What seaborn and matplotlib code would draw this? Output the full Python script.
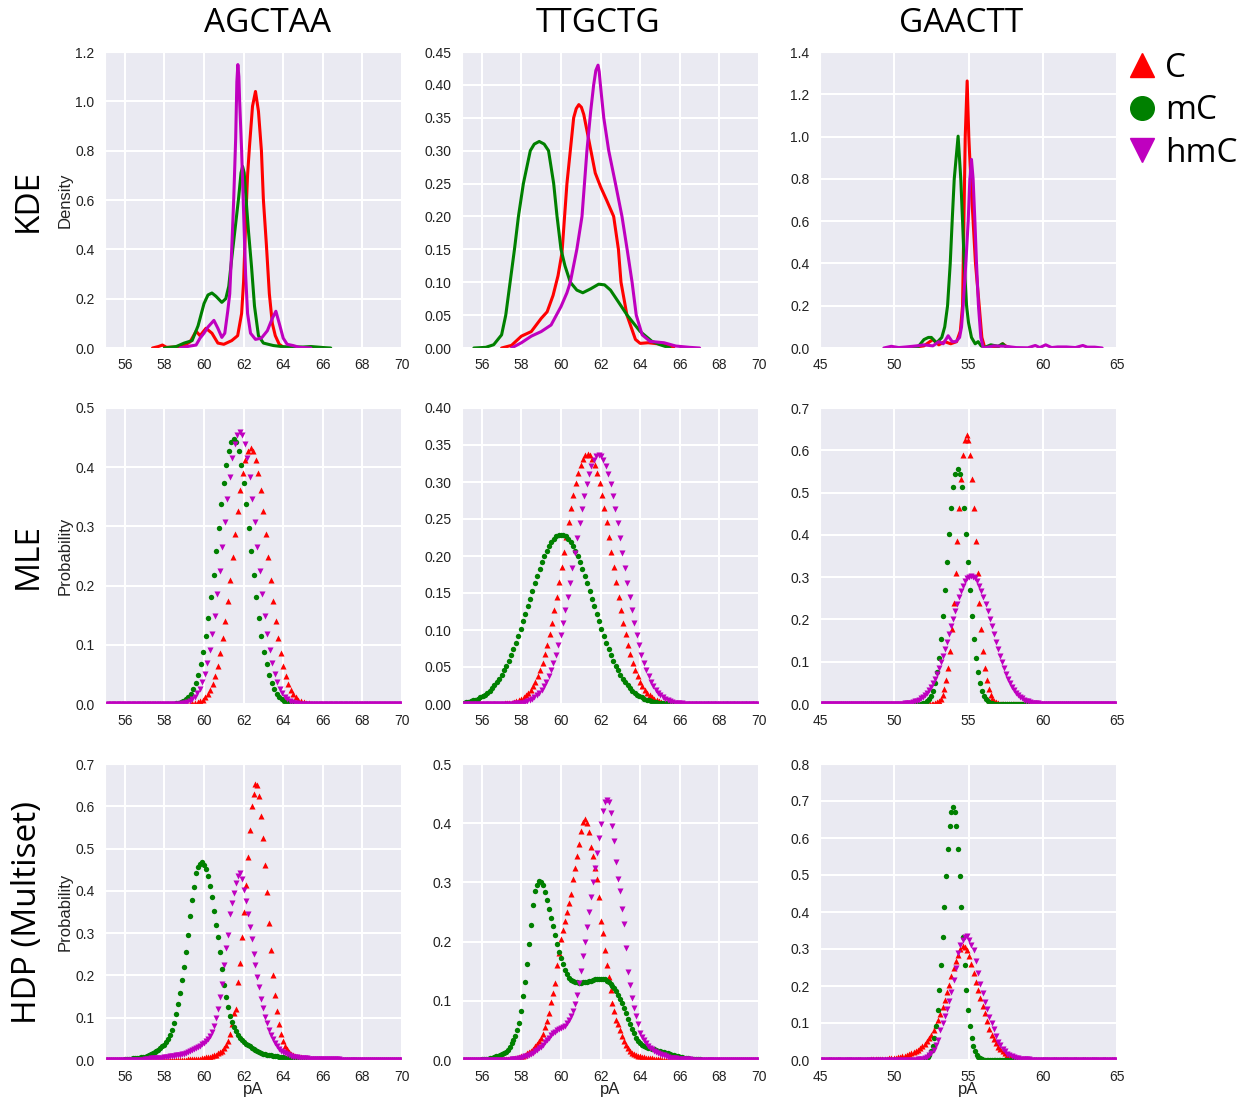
import numpy as np
import seaborn as sns
import matplotlib.pyplot as plt
from matplotlib.lines import Line2D
from matplotlib.ticker import FormatStrFormatter

motifs = ['AGCTAA', 'TTGCTG', 'GAACTT']
methods = ['KDE', 'MLE', 'HDP (Multiset)']
bases = ['C', 'mC', 'hmC']
base_colors = {'C': '#ff0000', 'mC': '#008000', 'hmC': '#bf00bf'}
base_markers = {'C': '^', 'mC': 'o', 'hmC': 'v'}

x_limits = [(55, 70), (55, 70), (45, 65)]
x_ticks = [[56, 58, 60, 62, 64, 66, 68, 70], [56, 58, 60, 62, 64, 66, 68, 70], [45, 50, 55, 60, 65]]
y_ticks = [
    [[0.0, 0.2, 0.4, 0.6, 0.8, 1.0, 1.2],
     [0.0, 0.05, 0.10, 0.15, 0.20, 0.25, 0.30, 0.35, 0.40, 0.45],
     [0.0, 0.2, 0.4, 0.6, 0.8, 1.0, 1.2, 1.4]],
    [[0.0, 0.1, 0.2, 0.3, 0.4, 0.5],
     [0.0, 0.05, 0.10, 0.15, 0.20, 0.25, 0.30, 0.35, 0.40],
     [0.0, 0.1, 0.2, 0.3, 0.4, 0.5, 0.6, 0.7]],
    [[0.0, 0.1, 0.2, 0.3, 0.4, 0.5, 0.6, 0.7],
     [0.0, 0.1, 0.2, 0.3, 0.4, 0.5],
     [0.0, 0.1, 0.2, 0.3, 0.4, 0.5, 0.6, 0.7, 0.8]],
]
y_formats = [['%.1f', '%.2f', '%.1f'], ['%.1f', '%.2f', '%.1f'], ['%.1f', '%.1f', '%.1f']]

# ---------------- KDE (density curves, x / y) ----------------
kde_agctaa_c_x = [57.4, 57.7, 57.9, 58.1, 58.6, 59.0, 59.3, 59.6, 59.8, 60.1, 60.4, 60.7, 61.0, 61.4, 61.7, 61.9,
                  62.0, 62.1, 62.2, 62.3, 62.45, 62.6, 62.75, 62.9, 63.0, 63.15, 63.3, 63.45, 63.6, 63.8, 64.0, 64.3]
kde_agctaa_c_y = [0.0, 0.006, 0.012, 0.003, 0.004, 0.01, 0.025, 0.068, 0.05, 0.08, 0.06, 0.02, 0.015, 0.03, 0.05, 0.14,
                  0.27, 0.5, 0.7, 0.82, 0.98, 1.04, 0.96, 0.8, 0.6, 0.42, 0.22, 0.1, 0.05, 0.015, 0.004, 0.0]
kde_agctaa_mc_x = [58.0, 58.6, 59.0, 59.4, 59.7, 60.0, 60.2, 60.4, 60.6, 60.9, 61.1, 61.25, 61.41, 61.58, 61.75,
                   61.87, 61.95, 62.03, 62.1, 62.25, 62.4, 62.55, 62.75, 63.0, 63.5, 64.0, 65.0, 65.4, 66.0, 66.4]
kde_agctaa_mc_y = [0.0, 0.006, 0.02, 0.03, 0.09, 0.18, 0.215, 0.223, 0.21, 0.185, 0.2, 0.25, 0.37, 0.49, 0.61,
                   0.71, 0.736, 0.71, 0.63, 0.47, 0.33, 0.17, 0.05, 0.02, 0.01, 0.005, 0.004, 0.006, 0.002, 0.0]
kde_agctaa_hmc_x = [58.8, 59.3, 59.6, 59.8, 60.0, 60.2, 60.5, 60.7, 60.9, 61.05, 61.2, 61.3, 61.4, 61.5, 61.6, 61.66,
                    61.71, 61.76, 61.8, 61.9, 62.0, 62.1, 62.2, 62.35, 62.6, 62.9, 63.2, 63.45, 63.63, 63.8, 64.0,
                    64.2, 64.5, 64.8, 65.4]
kde_agctaa_hmc_y = [0.0, 0.008, 0.012, 0.04, 0.06, 0.085, 0.112, 0.08, 0.043, 0.06, 0.15, 0.22, 0.4, 0.6, 0.85, 1.08,
                    1.149, 1.1, 1.0, 0.8, 0.55, 0.3, 0.14, 0.06, 0.035, 0.04, 0.07, 0.12, 0.149, 0.1, 0.04,
                    0.015, 0.01, 0.003, 0.0]

kde_ttgctg_c_x = [57.0, 57.5, 58.0, 58.5, 59.0, 59.3, 59.6, 59.85, 60.05, 60.3, 60.47, 60.64, 60.77, 60.9, 61.03,
                  61.15, 61.4, 61.73, 62.0, 62.3, 62.66, 62.9, 63.03, 63.33, 63.76, 64.0, 64.4, 65.0, 65.3, 65.7]
kde_ttgctg_c_y = [0.0, 0.004, 0.018, 0.025, 0.045, 0.055, 0.08, 0.11, 0.145, 0.25, 0.3, 0.35, 0.364, 0.37, 0.366,
                  0.355, 0.317, 0.266, 0.245, 0.225, 0.2, 0.15, 0.1, 0.05, 0.013, 0.007, 0.008, 0.006, 0.004, 0.0]
kde_ttgctg_mc_x = [55.6, 56.2, 56.6, 57.0, 57.21, 57.43, 57.65, 57.85, 58.1, 58.45, 58.65, 58.9, 59.15, 59.37, 59.63,
                   59.8, 60.0, 60.2, 60.47, 60.8, 61.1, 61.5, 61.9, 62.2, 62.5, 62.9, 63.34, 64.0, 64.6, 65.0, 65.5]
kde_ttgctg_mc_y = [0.0, 0.001, 0.005, 0.02, 0.05, 0.1, 0.15, 0.2, 0.25, 0.3, 0.31, 0.314, 0.31, 0.3, 0.25,
                   0.2, 0.15, 0.125, 0.1, 0.088, 0.084, 0.09, 0.097, 0.096, 0.088, 0.07, 0.05, 0.025, 0.01, 0.005, 0.0]
kde_ttgctg_hmc_x = [57.5, 58.0, 58.5, 59.0, 59.5, 60.0, 60.3, 60.47, 60.8, 61.06, 61.31, 61.5, 61.65, 61.76, 61.87,
                    61.93, 61.99, 62.16, 62.41, 62.75, 63.08, 63.34, 63.59, 63.8, 64.1, 64.5, 65.2, 65.8, 66.5, 67.0]
kde_ttgctg_hmc_y = [0.0, 0.008, 0.018, 0.025, 0.035, 0.063, 0.084, 0.1, 0.15, 0.2, 0.3, 0.36, 0.4, 0.422, 0.43,
                    0.42, 0.4, 0.35, 0.3, 0.25, 0.2, 0.15, 0.1, 0.05, 0.02, 0.01, 0.008, 0.003, 0.001, 0.0]

kde_gaactt_c_x = [50.5, 51.5, 52.0, 52.6, 53.0, 53.4, 53.8, 54.2, 54.45, 54.6, 54.69, 54.78, 54.91, 55.02, 55.15,
                  55.31, 55.47, 55.72, 55.9, 56.1, 56.5, 57.0, 57.3, 57.6, 58.0]
kde_gaactt_c_y = [0.0, 0.005, 0.01, 0.04, 0.015, 0.03, 0.02, 0.03, 0.08, 0.2, 0.6, 1.0, 1.263, 1.0, 0.8,
                  0.6, 0.4, 0.2, 0.05, 0.0, 0.005, 0.005, 0.02, 0.005, 0.0]
kde_gaactt_mc_x = [51.3, 51.6, 52.0, 52.3, 52.5, 52.85, 53.2, 53.4, 53.59, 53.77, 53.9, 54.04, 54.3, 54.48, 54.6,
                   54.71, 54.87, 55.0, 55.2, 55.45, 55.65, 55.85, 56.1, 56.5, 57.0, 57.3, 57.6]
kde_gaactt_mc_y = [0.0, 0.005, 0.04, 0.05, 0.05, 0.024, 0.05, 0.1, 0.2, 0.4, 0.6, 0.8, 1.002, 0.8, 0.6,
                   0.4, 0.2, 0.12, 0.05, 0.02, 0.03, 0.01, 0.003, 0.015, 0.008, 0.02, 0.0]
kde_gaactt_hmc_x = [49.3, 49.8, 50.3, 50.8, 51.5, 52.0, 52.6, 53.0, 53.3, 53.63, 53.9, 54.15, 54.4, 54.53, 54.64,
                    54.82, 54.98, 55.09, 55.2, 55.31, 55.43, 55.54, 55.67, 55.83, 56.0, 56.7, 57.5, 58.2, 59.0,
                    59.5, 59.8, 60.2, 60.6, 61.0, 61.6, 62.2, 62.7, 63.0, 63.5, 64.0]
kde_gaactt_hmc_y = [0.0, 0.008, 0.002, 0.005, 0.01, 0.015, 0.01, 0.03, 0.02, 0.058, 0.03, 0.03, 0.05, 0.1, 0.2,
                    0.4, 0.6, 0.8, 0.892, 0.8, 0.6, 0.4, 0.2, 0.05, 0.0, 0.01, 0.008, 0.002, 0.001,
                    0.012, 0.002, 0.015, 0.002, 0.005, 0.005, 0.002, 0.012, 0.004, 0.004, 0.0]

# ---------------- MLE (probabilities on an evenly spaced pA grid: (first pA, spacing)) ----------------
mle_agctaa_c_grid = (59.035, 0.1275)
mle_agctaa_c = [0.0002, 0.0004, 0.0006, 0.0011, 0.0019, 0.003, 0.0048, 0.0074, 0.0113, 0.0167, 0.0242, 0.0344,
                0.0476, 0.0645, 0.0855, 0.111, 0.14, 0.174, 0.21, 0.249, 0.288, 0.326, 0.361, 0.39, 0.413, 0.427,
                0.432, 0.427, 0.413, 0.39, 0.361, 0.326, 0.288, 0.249, 0.21, 0.174, 0.14, 0.111, 0.0855, 0.0645,
                0.0476, 0.0344, 0.0242, 0.0167, 0.0113, 0.0074, 0.0048, 0.003, 0.0019, 0.0011, 0.0006, 0.0004, 0.0002]
mle_agctaa_mc_grid = (58.185, 0.1275)
mle_agctaa_mc = [0.0002, 0.0004, 0.0007, 0.0012, 0.0019, 0.0031, 0.005, 0.0077, 0.0117, 0.0173, 0.0251, 0.0356,
                 0.0493, 0.0668, 0.0885, 0.115, 0.145, 0.18, 0.218, 0.258, 0.298, 0.337, 0.373, 0.404, 0.427, 0.442,
                 0.447, 0.442, 0.427, 0.404, 0.373, 0.337, 0.298, 0.258, 0.218, 0.18, 0.145, 0.115, 0.0885, 0.0668,
                 0.0493, 0.0356, 0.0251, 0.0173, 0.0117, 0.0077, 0.005, 0.0031, 0.0019, 0.0012, 0.0007, 0.0004, 0.0002]
mle_agctaa_hmc_grid = (58.524, 0.126)
mle_agctaa_hmc = [0.0002, 0.0004, 0.0007, 0.0012, 0.002, 0.0032, 0.0051, 0.0079, 0.012, 0.0178, 0.0258, 0.0366,
                  0.0507, 0.0687, 0.091, 0.118, 0.149, 0.185, 0.224, 0.265, 0.307, 0.347, 0.384, 0.416, 0.44, 0.455,
                  0.46, 0.455, 0.44, 0.416, 0.384, 0.347, 0.307, 0.265, 0.224, 0.185, 0.149, 0.118, 0.091, 0.0687,
                  0.0507, 0.0366, 0.0258, 0.0178, 0.012, 0.0079, 0.0051, 0.0032, 0.002, 0.0012, 0.0007, 0.0004, 0.0002]

mle_ttgctg_c_grid = (56.55, 0.12)
mle_ttgctg_c = [0.0001, 0.0002, 0.0002, 0.0004, 0.0005, 0.0007, 0.001, 0.0015, 0.002, 0.0028, 0.0038, 0.005,
                0.0067, 0.0088, 0.0115, 0.0148, 0.019, 0.024, 0.03, 0.0373, 0.0457, 0.0556, 0.0669, 0.0797, 0.094,
                0.1097, 0.1269, 0.1452, 0.1645, 0.1846, 0.205, 0.2254, 0.2454, 0.2646, 0.2823, 0.2983, 0.312,
                0.3231, 0.3313, 0.3363, 0.338, 0.3363, 0.3313, 0.3231, 0.312, 0.2983, 0.2823, 0.2646, 0.2454,
                0.2254, 0.205, 0.1846, 0.1645, 0.1452, 0.1269, 0.1097, 0.094, 0.0797, 0.0669, 0.0556, 0.0457,
                0.0373, 0.03, 0.024, 0.019, 0.0148, 0.0115, 0.0088, 0.0067, 0.005, 0.0038, 0.0028, 0.002, 0.0015,
                0.001, 0.0007, 0.0005, 0.0004, 0.0002, 0.0002, 0.0001]
mle_ttgctg_mc_grid = (55.08, 0.12)
mle_ttgctg_mc = [0.002, 0.0025, 0.0032, 0.0039, 0.0049, 0.006, 0.0073, 0.0089, 0.0107, 0.0128, 0.0153, 0.0182,
                 0.0215, 0.0253, 0.0295, 0.0342, 0.0395, 0.0453, 0.0517, 0.0587, 0.0662, 0.0744, 0.083, 0.0921,
                 0.1016, 0.1115, 0.1216, 0.1319, 0.1424, 0.1527, 0.163, 0.1728, 0.1824, 0.1913, 0.1995, 0.2069,
                 0.2135, 0.2189, 0.2233, 0.2264, 0.2284, 0.229, 0.2284, 0.2264, 0.2233, 0.2189, 0.2135, 0.2069,
                 0.1995, 0.1913, 0.1824, 0.1728, 0.163, 0.1527, 0.1424, 0.1319, 0.1216, 0.1115, 0.1016, 0.0921,
                 0.083, 0.0744, 0.0662, 0.0587, 0.0517, 0.0453, 0.0395, 0.0342, 0.0295, 0.0253, 0.0215, 0.0182,
                 0.0153, 0.0128, 0.0107, 0.0089, 0.0073, 0.006, 0.0049, 0.0039, 0.0032, 0.0025, 0.002, 0.0016,
                 0.0013, 0.001, 0.0008, 0.0006, 0.0005, 0.0003, 0.0003, 0.0002, 0.0002, 0.0001]
mle_ttgctg_hmc_grid = (57.1, 0.12)
mle_ttgctg_hmc = [0.0001, 0.0002, 0.0002, 0.0004, 0.0005, 0.0007, 0.001, 0.0014, 0.002, 0.0028, 0.0037, 0.005,
                  0.0067, 0.0088, 0.0115, 0.0148, 0.0189, 0.0239, 0.03, 0.0372, 0.0456, 0.0554, 0.0667, 0.0794,
                  0.0937, 0.1094, 0.1265, 0.1448, 0.164, 0.184, 0.2044, 0.2248, 0.2447, 0.2638, 0.2815, 0.2974,
                  0.3111, 0.3222, 0.3303, 0.3353, 0.337, 0.3353, 0.3303, 0.3222, 0.3111, 0.2974, 0.2815, 0.2638,
                  0.2447, 0.2248, 0.2044, 0.184, 0.164, 0.1448, 0.1265, 0.1094, 0.0937, 0.0794, 0.0667, 0.0554,
                  0.0456, 0.0372, 0.03, 0.0239, 0.0189, 0.0148, 0.0115, 0.0088, 0.0067, 0.005, 0.0037, 0.0028,
                  0.002, 0.0014, 0.001, 0.0007, 0.0005, 0.0004, 0.0002, 0.0002, 0.0001]

mle_gaactt_c_grid = (52.39, 0.124)
mle_gaactt_c = [0.0002, 0.0004, 0.001, 0.002, 0.0038, 0.0071, 0.0126, 0.0217, 0.0357, 0.0566, 0.0862, 0.1261,
                0.1771, 0.2391, 0.3101, 0.3863, 0.4625, 0.5321, 0.588, 0.6244, 0.637, 0.6244, 0.588, 0.5321,
                0.4625, 0.3863, 0.3101, 0.2391, 0.1771, 0.1261, 0.0862, 0.0566, 0.0357, 0.0217, 0.0126, 0.0071,
                0.0038, 0.002, 0.001, 0.0004, 0.0002]
mle_gaactt_mc_grid = (51.5, 0.138)
mle_gaactt_mc = [0.0002, 0.0004, 0.0008, 0.0017, 0.0033, 0.0062, 0.011, 0.0189, 0.0311, 0.0493, 0.0751, 0.1098,
                 0.1543, 0.2083, 0.2702, 0.3366, 0.403, 0.4636, 0.5123, 0.544, 0.555, 0.544, 0.5123, 0.4636,
                 0.403, 0.3366, 0.2702, 0.2083, 0.1543, 0.1098, 0.0751, 0.0493, 0.0311, 0.0189, 0.011, 0.0062,
                 0.0033, 0.0017, 0.0008, 0.0004, 0.0002]
mle_gaactt_hmc_grid = (49.8, 0.135)
mle_gaactt_hmc = [0.0001, 0.0002, 0.0002, 0.0003, 0.0005, 0.0007, 0.0009, 0.0013, 0.0018, 0.0025, 0.0034, 0.0045,
                  0.006, 0.0079, 0.0103, 0.0133, 0.017, 0.0215, 0.0269, 0.0334, 0.041, 0.0498, 0.06, 0.0714,
                  0.0842, 0.0984, 0.1137, 0.1302, 0.1475, 0.1655, 0.1838, 0.2021, 0.22, 0.2372, 0.2531, 0.2674,
                  0.2797, 0.2897, 0.297, 0.3015, 0.303, 0.3015, 0.297, 0.2897, 0.2797, 0.2674, 0.2531, 0.2372,
                  0.22, 0.2021, 0.1838, 0.1655, 0.1475, 0.1302, 0.1137, 0.0984, 0.0842, 0.0714, 0.06, 0.0498,
                  0.041, 0.0334, 0.0269, 0.0215, 0.017, 0.0133, 0.0103, 0.0079, 0.006, 0.0045, 0.0034, 0.0025,
                  0.0018, 0.0013, 0.0009, 0.0007, 0.0005, 0.0003, 0.0002, 0.0002, 0.0001]

# ---------------- HDP (Multiset) ----------------
hdp_agctaa_c_grid = (59.0, 0.1)
hdp_agctaa_c = [0.001, 0.001, 0.0015, 0.0015, 0.002, 0.002, 0.0025, 0.003, 0.0035, 0.004, 0.005, 0.006, 0.007,
                0.008, 0.009, 0.011, 0.013, 0.016, 0.019, 0.022, 0.028, 0.036, 0.046, 0.062, 0.085, 0.11, 0.12,
                0.185, 0.23, 0.29, 0.35, 0.415, 0.48, 0.545, 0.6, 0.63, 0.652, 0.65, 0.625, 0.578, 0.525, 0.46,
                0.398, 0.325, 0.26, 0.2, 0.153, 0.115, 0.085, 0.062, 0.046, 0.034, 0.025, 0.019, 0.015, 0.012,
                0.01, 0.008, 0.007, 0.006, 0.005, 0.0044, 0.0038, 0.0032, 0.0026, 0.002, 0.0018, 0.0016, 0.0014,
                0.0012, 0.001]
hdp_agctaa_mc_grid = (56.0, 0.1)
hdp_agctaa_mc = [0.002, 0.0024, 0.0028, 0.0032, 0.0036, 0.004, 0.0048, 0.0056, 0.0064, 0.0072, 0.008, 0.01, 0.012,
                 0.014, 0.016, 0.018, 0.021, 0.024, 0.028, 0.032, 0.036, 0.042, 0.049, 0.058, 0.07, 0.088, 0.108,
                 0.132, 0.158, 0.19, 0.22, 0.256, 0.295, 0.34, 0.378, 0.41, 0.442, 0.456, 0.464, 0.468, 0.462,
                 0.452, 0.436, 0.412, 0.385, 0.352, 0.32, 0.29, 0.256, 0.215, 0.178, 0.148, 0.125, 0.105, 0.09,
                 0.079, 0.068, 0.06, 0.053, 0.047, 0.042, 0.039, 0.035, 0.032, 0.029, 0.026, 0.024, 0.022, 0.019,
                 0.017, 0.015, 0.014, 0.013, 0.012, 0.011, 0.01, 0.0092, 0.0084, 0.0076, 0.0068, 0.006, 0.0056,
                 0.0052, 0.0048, 0.0044, 0.004, 0.0036, 0.0032, 0.0028, 0.0024, 0.002, 0.0019, 0.0018, 0.0017,
                 0.0016, 0.0015, 0.0014, 0.0013, 0.0012, 0.0011, 0.001]
hdp_agctaa_hmc_grid = (57.0, 0.1)
hdp_agctaa_hmc = [0.003, 0.003, 0.0033, 0.0036, 0.0038, 0.004, 0.0044, 0.0048, 0.0052, 0.0056, 0.006, 0.0068,
                  0.0076, 0.0084, 0.0092, 0.01, 0.011, 0.012, 0.013, 0.014, 0.015, 0.017, 0.019, 0.021, 0.023,
                  0.025, 0.028, 0.031, 0.034, 0.037, 0.04, 0.044, 0.049, 0.056, 0.067, 0.08, 0.099, 0.12, 0.148,
                  0.18, 0.225, 0.265, 0.295, 0.345, 0.372, 0.395, 0.418, 0.435, 0.442, 0.428, 0.402, 0.377, 0.345,
                  0.315, 0.285, 0.25, 0.224, 0.196, 0.172, 0.145, 0.124, 0.101, 0.087, 0.07, 0.058, 0.049, 0.041,
                  0.034, 0.027, 0.022, 0.018, 0.016, 0.014, 0.012, 0.01, 0.008, 0.0072, 0.0064, 0.0056, 0.0048,
                  0.004, 0.0038, 0.0036, 0.0034, 0.0032, 0.003, 0.0028, 0.0026, 0.0024, 0.0022, 0.002, 0.0019,
                  0.0018, 0.0017, 0.0016, 0.0015, 0.0014, 0.0013, 0.0012, 0.0011, 0.001]

hdp_ttgctg_c_grid = (57.0, 0.1)
hdp_ttgctg_c = [0.001, 0.0012, 0.0014, 0.0016, 0.0018, 0.002, 0.0025, 0.003, 0.0037, 0.0045, 0.006, 0.0075, 0.009,
                0.011, 0.013, 0.016, 0.019, 0.023, 0.027, 0.032, 0.037, 0.044, 0.055, 0.066, 0.08, 0.098, 0.114,
                0.13, 0.16, 0.18, 0.205, 0.22, 0.235, 0.25, 0.265, 0.28, 0.305, 0.325, 0.345, 0.365, 0.387, 0.402,
                0.407, 0.4, 0.385, 0.36, 0.345, 0.325, 0.305, 0.275, 0.235, 0.215, 0.185, 0.16, 0.14, 0.118, 0.097,
                0.082, 0.068, 0.06, 0.05, 0.041, 0.032, 0.025, 0.02, 0.015, 0.012, 0.01, 0.0085, 0.007, 0.006,
                0.0054, 0.0048, 0.0042, 0.0036, 0.003, 0.0026, 0.0022, 0.0018, 0.0014, 0.001]
hdp_ttgctg_mc_grid = (56.0, 0.1)
hdp_ttgctg_mc = [0.001, 0.0015, 0.002, 0.0025, 0.003, 0.004, 0.005, 0.006, 0.007, 0.0085, 0.01, 0.012, 0.014, 0.017,
                 0.022, 0.028, 0.034, 0.041, 0.051, 0.062, 0.082, 0.108, 0.132, 0.163, 0.196, 0.228, 0.262, 0.285,
                 0.296, 0.302, 0.3, 0.295, 0.284, 0.27, 0.255, 0.24, 0.226, 0.211, 0.196, 0.183, 0.172, 0.162,
                 0.152, 0.145, 0.139, 0.135, 0.133, 0.132, 0.131, 0.13, 0.13, 0.131, 0.131, 0.132, 0.133, 0.134,
                 0.135, 0.136, 0.137, 0.137, 0.137, 0.137, 0.136, 0.134, 0.132, 0.129, 0.125, 0.121, 0.116, 0.11,
                 0.103, 0.096, 0.088, 0.079, 0.07, 0.061, 0.053, 0.045, 0.038, 0.032, 0.028, 0.025, 0.023, 0.022,
                 0.021, 0.02, 0.019, 0.018, 0.017, 0.016, 0.015, 0.014, 0.013, 0.012, 0.011, 0.01, 0.009, 0.008,
                 0.007, 0.006, 0.005, 0.0044, 0.0038, 0.0032, 0.0026, 0.002, 0.0018, 0.0016, 0.0014, 0.0012, 0.001]
hdp_ttgctg_hmc_grid = (57.5, 0.1)
hdp_ttgctg_hmc = [0.001, 0.0015, 0.002, 0.0025, 0.003, 0.004, 0.005, 0.006, 0.007, 0.0085, 0.01, 0.012, 0.0145,
                  0.017, 0.0195, 0.022, 0.026, 0.03, 0.034, 0.038, 0.042, 0.045, 0.048, 0.05, 0.052, 0.054, 0.056,
                  0.058, 0.062, 0.067, 0.074, 0.082, 0.095, 0.11, 0.13, 0.15, 0.175, 0.2, 0.225, 0.25, 0.275, 0.3,
                  0.325, 0.35, 0.375, 0.398, 0.42, 0.435, 0.44, 0.435, 0.418, 0.395, 0.37, 0.335, 0.305, 0.285,
                  0.255, 0.23, 0.19, 0.148, 0.127, 0.104, 0.088, 0.074, 0.06, 0.045, 0.039, 0.033, 0.028, 0.024,
                  0.021, 0.018, 0.016, 0.014, 0.012, 0.01, 0.009, 0.0078, 0.0066, 0.0053, 0.004, 0.0036, 0.0032,
                  0.0028, 0.0024, 0.002, 0.0018, 0.0016, 0.0014, 0.0012, 0.001]

hdp_gaactt_c_grid = (48.0, 0.15)
hdp_gaactt_c = [0.001, 0.0012, 0.0013, 0.0015, 0.0016, 0.0018, 0.0019, 0.0022, 0.0028, 0.0034, 0.004, 0.0046,
                0.0052, 0.0058, 0.0066, 0.0075, 0.0084, 0.0096, 0.0114, 0.0132, 0.015, 0.018, 0.021, 0.024, 0.028,
                0.0325, 0.037, 0.043, 0.051, 0.059, 0.068, 0.081, 0.095, 0.108, 0.125, 0.144, 0.163, 0.183, 0.204,
                0.226, 0.248, 0.267, 0.285, 0.3, 0.309, 0.306, 0.297, 0.28, 0.26, 0.235, 0.212, 0.19, 0.168, 0.147,
                0.126, 0.105, 0.085, 0.068, 0.057, 0.046, 0.036, 0.029, 0.023, 0.018, 0.014, 0.011, 0.008, 0.0058,
                0.0046, 0.0034, 0.0022, 0.0018, 0.0015, 0.0012, 0.001]
hdp_gaactt_mc_grid = (51.67, 0.114)
hdp_gaactt_mc = [0.0002, 0.0005, 0.001, 0.0021, 0.0041, 0.0076, 0.0135, 0.0233, 0.0384, 0.0608, 0.0925, 0.1354,
                 0.1902, 0.2567, 0.333, 0.4148, 0.4967, 0.5713, 0.6314, 0.6705, 0.684, 0.6705, 0.6314, 0.5713,
                 0.4967, 0.4148, 0.333, 0.2567, 0.1902, 0.1354, 0.0925, 0.0608, 0.0384, 0.0233, 0.0135, 0.0076,
                 0.0041, 0.0021, 0.001, 0.0005, 0.0002]
hdp_gaactt_hmc_grid = (51.45, 0.15)
hdp_gaactt_hmc = [0.001, 0.002, 0.003, 0.004, 0.006, 0.009, 0.013, 0.02, 0.028, 0.04, 0.055, 0.08, 0.1, 0.118,
                  0.138, 0.16, 0.185, 0.215, 0.25, 0.29, 0.31, 0.325, 0.332, 0.334, 0.325, 0.31, 0.297, 0.268,
                  0.236, 0.205, 0.18, 0.158, 0.137, 0.117, 0.1, 0.083, 0.066, 0.05, 0.04, 0.031, 0.023, 0.017,
                  0.013, 0.01, 0.008, 0.006, 0.005, 0.004, 0.003, 0.0025, 0.002, 0.0016, 0.0013, 0.001]

kde_curves = [
    [(kde_agctaa_c_x, kde_agctaa_c_y), (kde_agctaa_mc_x, kde_agctaa_mc_y), (kde_agctaa_hmc_x, kde_agctaa_hmc_y)],
    [(kde_ttgctg_c_x, kde_ttgctg_c_y), (kde_ttgctg_mc_x, kde_ttgctg_mc_y), (kde_ttgctg_hmc_x, kde_ttgctg_hmc_y)],
    [(kde_gaactt_c_x, kde_gaactt_c_y), (kde_gaactt_mc_x, kde_gaactt_mc_y), (kde_gaactt_hmc_x, kde_gaactt_hmc_y)],
]
dot_series = {
    1: [[(mle_agctaa_c_grid, mle_agctaa_c), (mle_agctaa_mc_grid, mle_agctaa_mc), (mle_agctaa_hmc_grid, mle_agctaa_hmc)],
        [(mle_ttgctg_c_grid, mle_ttgctg_c), (mle_ttgctg_mc_grid, mle_ttgctg_mc), (mle_ttgctg_hmc_grid, mle_ttgctg_hmc)],
        [(mle_gaactt_c_grid, mle_gaactt_c), (mle_gaactt_mc_grid, mle_gaactt_mc), (mle_gaactt_hmc_grid, mle_gaactt_hmc)]],
    2: [[(hdp_agctaa_c_grid, hdp_agctaa_c), (hdp_agctaa_mc_grid, hdp_agctaa_mc), (hdp_agctaa_hmc_grid, hdp_agctaa_hmc)],
        [(hdp_ttgctg_c_grid, hdp_ttgctg_c), (hdp_ttgctg_mc_grid, hdp_ttgctg_mc), (hdp_ttgctg_hmc_grid, hdp_ttgctg_hmc)],
        [(hdp_gaactt_c_grid, hdp_gaactt_c), (hdp_gaactt_mc_grid, hdp_gaactt_mc), (hdp_gaactt_hmc_grid, hdp_gaactt_hmc)]],
}


def grid_points(grid, vals, lo, hi):
    # listed readings on their grid, plus the flat zero readings out to the axis ends
    start, step = grid
    vals = np.asarray(vals, dtype=float)
    xs = start + step * np.arange(len(vals))
    n_left = max(0, int(np.floor((start - lo) / step)))
    n_right = max(0, int(np.floor((hi - xs[-1]) / step)))
    left = start - step * np.arange(n_left, 0, -1)
    right = xs[-1] + step * np.arange(1, n_right + 1)
    x = np.concatenate([left, xs, right])
    y = np.concatenate([np.zeros(n_left), vals, np.zeros(n_right)])
    return x, y


sns.set_style('darkgrid', {'grid.color': 'white', 'axes.facecolor': '#EAEAF2'})
plt.rcParams['font.family'] = ['Liberation Sans', 'DejaVu Sans']
big_font = ['Open Sans', 'DejaVu Sans']

W, H = 1242, 1103
fig = plt.figure(figsize=(W / 100, H / 100), dpi=100)
col_left = [105, 462, 820]
row_top = [52, 408, 764]
ax_w, ax_h = 297, 296

for r in range(3):
    for c in range(3):
        ax = fig.add_axes([col_left[c] / W, 1 - (row_top[r] + ax_h) / H, ax_w / W, ax_h / H])
        lo, hi = x_limits[c]
        for b, base in enumerate(bases):
            if r == 0:
                xs, ys = kde_curves[c][b]
                n = min(len(xs), len(ys))
                sns.lineplot(x=np.array(xs[:n]), y=np.array(ys[:n]), ax=ax, color=base_colors[base],
                             linewidth=2.2, estimator=None, sort=False)
            else:
                grid, vals = dot_series[r][c][b]
                x, y = grid_points(grid, vals, lo, hi)
                size = 15 if base == 'mC' else 19
                sns.scatterplot(x=x, y=y, ax=ax, color=base_colors[base], marker=base_markers[base],
                                s=size, linewidth=0)
        ax.set_xlim(lo, hi)
        ax.set_ylim(0, y_ticks[r][c][-1])
        ax.set_xticks(x_ticks[c])
        ax.set_yticks(y_ticks[r][c])
        ax.yaxis.set_major_formatter(FormatStrFormatter(y_formats[r][c]))
        ax.tick_params(labelsize=10, colors='#222222', pad=4)
        ax.grid(True, color='white', linewidth=1.5)
        ax.set_xlabel('')
        ax.set_ylabel('')
        if c == 0:
            ax.set_ylabel('Density' if r == 0 else 'Probability', fontsize=12, color='#222222')
            ax.yaxis.set_label_coords(-0.11, 0.5)
        if r == 2:
            ax.set_xlabel('pA', fontsize=12, color='#222222')
            ax.xaxis.set_label_coords(0.5, -0.075)

# column titles and row labels
title_x = [267, 598, 961]
for c, motif in enumerate(motifs):
    fig.text(title_x[c] / W, 1 - 24 / H, motif, ha='center', va='center', fontsize=24,
             family=big_font, color='black')
for r, method in enumerate(methods):
    fig.text(28 / W, 1 - (row_top[r] + ax_h / 2) / H, method, ha='center', va='center', rotation=90,
             fontsize=24, family=big_font, color='black')

handles = [Line2D([0], [0], marker=base_markers[b], color=base_colors[b], linestyle='', markersize=17)
           for b in bases]
leg = fig.legend(handles, bases, loc='upper left', bbox_to_anchor=(1122 / W, 1 - 52 / H), frameon=False,
                 prop={'family': big_font, 'size': 24}, handletextpad=0.1, labelspacing=0.28,
                 handlelength=1.2, borderaxespad=0, borderpad=0)
for t in leg.get_texts():
    t.set_color('black')

fig.savefig('out.png', dpi=100, facecolor='white')
